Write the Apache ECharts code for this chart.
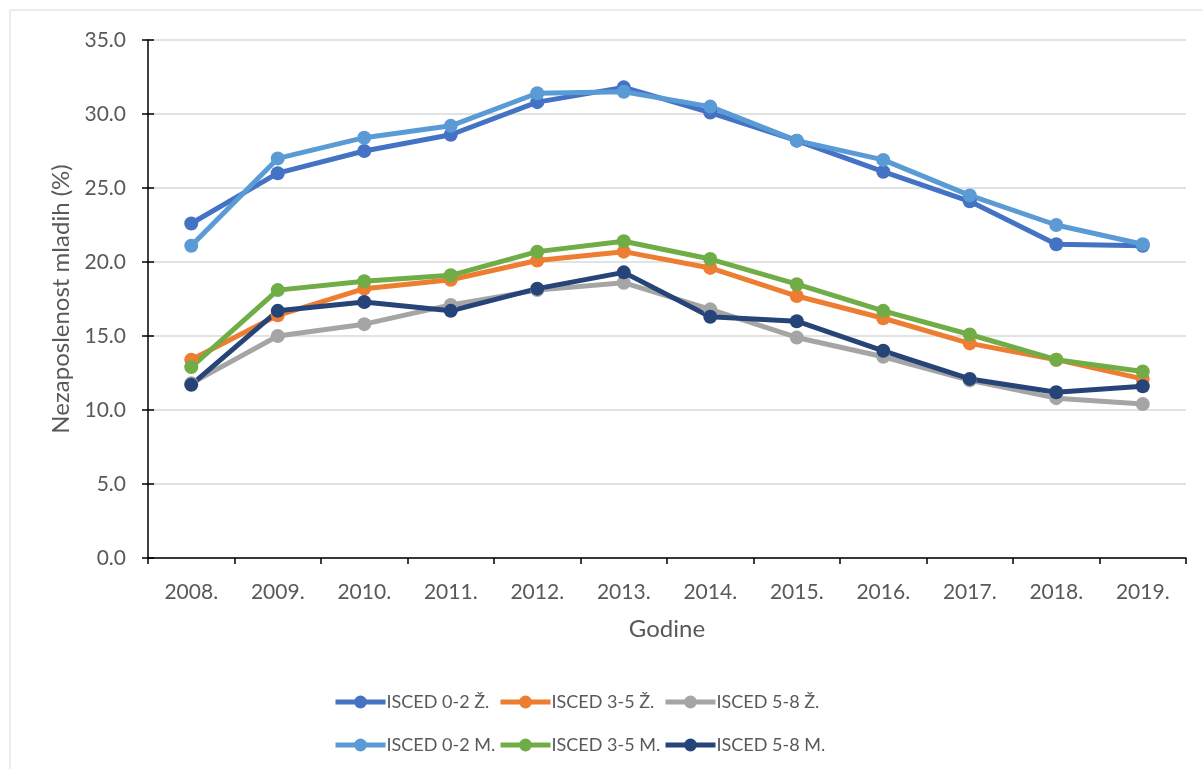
<!DOCTYPE html>
<html>
<head>
<meta charset="utf-8">
<script src="https://cdn.jsdelivr.net/npm/echarts@6/dist/echarts.min.js"></script>
<style>
  html, body { margin: 0; padding: 0; background: #fff; }
  #chart { width: 1202px; height: 769px; }
</style>
</head>
<body>
<div id="chart"></div>
<script>
// podaci s grafa
const godine = ['2008.', '2009.', '2010.', '2011.', '2012.', '2013.', '2014.', '2015.', '2016.', '2017.', '2018.', '2019.']
const isced02Z = [22.6, 26.0, 27.5, 28.6, 30.8, 31.8, 30.1, 28.2, 26.1, 24.1, 21.2, 21.1]
const isced35Z = [13.4, 16.4, 18.2, 18.8, 20.1, 20.7, 19.6, 17.7, 16.2, 14.5, 13.4, 12.1]
const isced58Z = [11.8, 15.0, 15.8, 17.1, 18.1, 18.6, 16.8, 14.9, 13.6, 12.0, 10.8, 10.4]
const isced02M = [21.1, 27.0, 28.4, 29.2, 31.4, 31.5, 30.5, 28.2, 26.9, 24.5, 22.5, 21.2]
const isced35M = [12.9, 18.1, 18.7, 19.1, 20.7, 21.4, 20.2, 18.5, 16.7, 15.1, 13.4, 12.6]
const isced58M = [11.7, 16.7, 17.3, 16.7, 18.2, 19.3, 16.3, 16.0, 14.0, 12.1, 11.2, 11.6]

const font = 'Lato, "Open Sans", sans-serif'
const textColor = '#595959'

const myChart = echarts.init(document.getElementById('chart'))

const makeSeries = (name, data, color) => ({
  name: name,
  type: 'line',
  data: data,
  symbol: 'circle',
  symbolSize: 14,
  itemStyle: { color: color },
  lineStyle: { color: color, width: 5 },
  emphasis: { disabled: true },
  animation: false
})

const legendCol = (left, names) => ({
  orient: 'vertical',
  left: left,
  top: 688,
  itemGap: 25,
  itemWidth: 50,
  itemHeight: 16,
  data: names,
  lineStyle: { width: 5 },
  textStyle: { fontFamily: font, fontSize: 18, color: textColor, padding: [0, 0, 0, -4] }
})

const option = {
  backgroundColor: '#fff',
  graphic: [{
    type: 'rect',
    shape: { x: 10, y: 10, width: 1200, height: 770 },
    style: { fill: 'none', stroke: '#D9D9D9', lineWidth: 1 },
    silent: true
  }],
  grid: { left: 148, right: 16, top: 40, bottom: 211 },
  legend: [
    legendCol(328, ['ISCED 0-2 Ž.', 'ISCED 0-2 M.']),
    legendCol(493, ['ISCED 3-5 Ž.', 'ISCED 3-5 M.']),
    legendCol(658, ['ISCED 5-8 Ž.', 'ISCED 5-8 M.'])
  ],
  xAxis: {
    type: 'category',
    data: godine,
    boundaryGap: true,
    name: 'Godine',
    nameLocation: 'middle',
    nameGap: 59,
    nameTextStyle: { fontFamily: font, fontSize: 24, color: textColor },
    axisLine: { lineStyle: { color: '#000', width: 1.5 } },
    axisTick: { show: true, length: 6, lineStyle: { color: '#000', width: 1.5 } },
    axisLabel: { fontFamily: font, fontSize: 21, color: textColor, margin: 24 },
    splitLine: { show: false }
  },
  yAxis: [{
    type: 'value',
    min: 0,
    max: 35,
    interval: 5,
    name: 'Nezaposlenost mladih (%)',
    nameLocation: 'middle',
    nameGap: 74,
    nameTextStyle: { fontFamily: font, fontSize: 24, color: textColor },
    axisLine: { show: true, lineStyle: { color: '#000', width: 1.5 } },
    axisTick: { show: true, length: 6, lineStyle: { color: '#000', width: 1.5 } },
    axisLabel: {
      fontFamily: font, fontSize: 21, color: textColor, margin: 22,
      formatter: (v) => v.toFixed(1)
    },
    splitLine: { show: true, lineStyle: { color: '#D9D9D9', width: 1.5 } }
  }, {
    // unutarnje crtice da izgleda kao "cross"
    type: 'value',
    min: 0,
    max: 35,
    interval: 5,
    position: 'left',
    axisLine: { show: false },
    axisTick: { show: true, inside: true, length: 6, lineStyle: { color: '#000', width: 1.5 } },
    axisLabel: { show: false },
    splitLine: { show: false }
  }],
  series: [
    makeSeries('ISCED 0-2 Ž.', isced02Z, '#4472C4'),
    makeSeries('ISCED 3-5 Ž.', isced35Z, '#ED7D31'),
    makeSeries('ISCED 5-8 Ž.', isced58Z, '#A5A5A5'),
    makeSeries('ISCED 0-2 M.', isced02M, '#5B9BD5'),
    makeSeries('ISCED 3-5 M.', isced35M, '#70AD47'),
    makeSeries('ISCED 5-8 M.', isced58M, '#264478')
  ]
}

myChart.setOption(option)
</script>
</body>
</html>
